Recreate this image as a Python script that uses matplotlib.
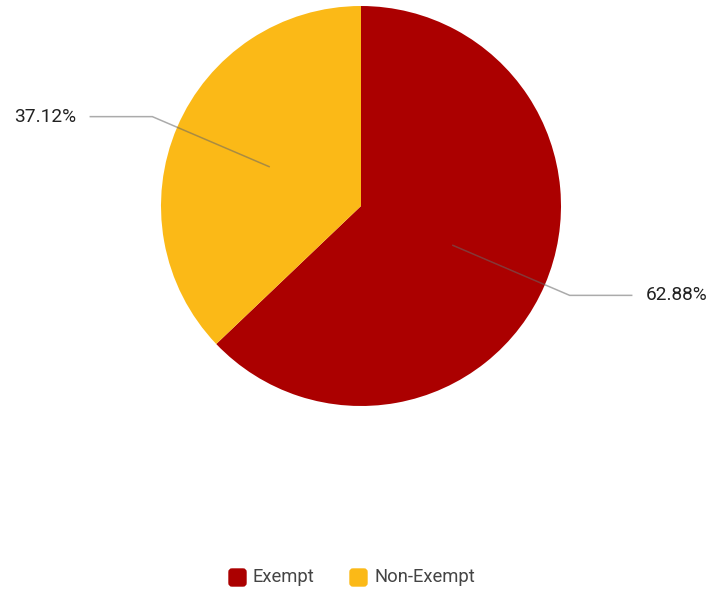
import numpy as np
import matplotlib.pyplot as plt
from matplotlib.patches import FancyBboxPatch

plt.rcParams['font.family'] = ['Roboto', 'DejaVu Sans']

# employee split by exemption status
categories = ['Exempt', 'Non-Exempt']
shares = [62.88, 37.12]
colors = ['#AB0000', '#FBB917']

W, H = 712, 594
fig = plt.figure(figsize=(W / 100, H / 100), dpi=100)
ax = fig.add_axes([0, 0, 1, 1])
ax.set_xlim(0, W)
ax.set_ylim(0, H)
ax.set_aspect('equal')
ax.axis('off')

cx, cy, r = 361, H - 206, 200
wedges, _ = ax.pie(shares, colors=colors, startangle=90, counterclock=False,
                   center=(cx, cy), radius=r, frame=True,
                   wedgeprops=dict(linewidth=0))
ax.set_xlim(0, W)
ax.set_ylim(0, H)
ax.axis('off')

# leader lines with percentage labels
for w, val in zip(wedges, shares):
    mid = np.deg2rad((w.theta1 + w.theta2) / 2)
    x0, y0 = cx + 0.5 * r * np.cos(mid), cy + 0.5 * r * np.sin(mid)
    x1, y1 = cx + 1.135 * r * np.cos(mid), cy + 1.135 * r * np.sin(mid)
    side = 1 if np.cos(mid) > 0 else -1
    x2 = x1 + side * 62
    ax.plot([x0, x1, x2], [y0, y1, y1], color='#666666', alpha=0.55, lw=1.1,
            solid_joinstyle='miter')
    ax.text(x2 + side * 14, y1, f'{val:.2f}%', fontsize=13.8, color='#222222',
            ha='left' if side > 0 else 'right', va='center')

# legend with rounded swatches
lx = [228, 349]
for x, name, c in zip(lx, categories, colors):
    ax.add_patch(FancyBboxPatch((x + 1, H - 586), 17, 17,
                                boxstyle='round,pad=0,rounding_size=3',
                                fc=c, ec=c, lw=1))
    ax.text(x + 25, H - 577.5, name, fontsize=13.2, color='#444444',
            ha='left', va='center')

fig.savefig('out.png', dpi=100)
